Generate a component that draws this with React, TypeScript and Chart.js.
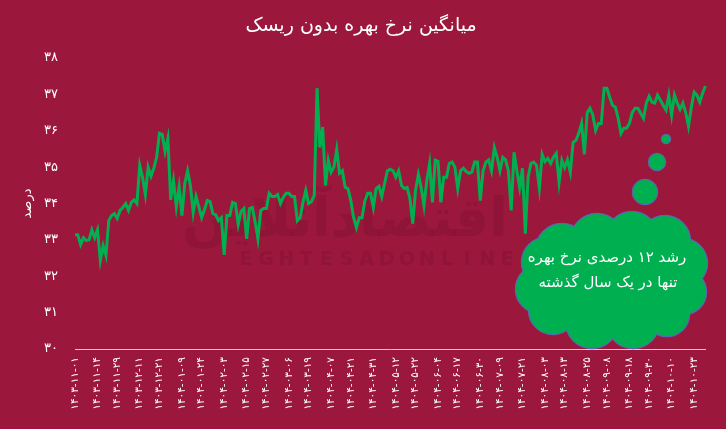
import React, { useEffect, useRef } from 'react';
import { Chart, registerables } from 'chart.js';

Chart.register(...registerables);

const TITLE = 'میانگین نرخ بهره بدون ریسک';
const Y_TITLE = 'درصد';
const CALLOUT_LINES = ['رشد ۱۲ درصدی نرخ بهره', 'تنها در یک سال گذشته'];
const WATERMARK_FA = 'اقتصادآنلاین';
const WATERMARK_EN = 'EGHTESADONLINE';

const Y_MIN = 30;
const Y_MAX = 38;

const TICK_LABELS = [
  '۱۴۰۳-۱۱-۰۱', '۱۴۰۳-۱۱-۱۴', '۱۴۰۳-۱۱-۲۹', '۱۴۰۳-۱۲-۱۱', '۱۴۰۳-۱۲-۲۱',
  '۱۴۰۴-۰۱-۰۹', '۱۴۰۴-۰۱-۲۴', '۱۴۰۴-۰۲-۰۳', '۱۴۰۴-۰۲-۱۵', '۱۴۰۴-۰۲-۲۷',
  '۱۴۰۴-۰۳-۰۶', '۱۴۰۴-۰۳-۱۹', '۱۴۰۴-۰۴-۰۷', '۱۴۰۴-۰۴-۲۱', '۱۴۰۴-۰۴-۳۱',
  '۱۴۰۴-۰۵-۱۲', '۱۴۰۴-۰۵-۲۲', '۱۴۰۴-۰۶-۰۴', '۱۴۰۴-۰۶-۱۷', '۱۴۰۴-۰۶-۳۰',
  '۱۴۰۴-۰۷-۰۹', '۱۴۰۴-۰۷-۲۱', '۱۴۰۴-۰۸-۰۳', '۱۴۰۴-۰۸-۱۳', '۱۴۰۴-۰۸-۲۵',
  '۱۴۰۴-۰۹-۰۸', '۱۴۰۴-۰۹-۱۸', '۱۴۰۴-۰۹-۳۰', '۱۴۰۴-۱۰-۱۰', '۱۴۰۴-۱۰-۲۳',
];
// one date label is shown about every 7.57 observations
const TICK_STEP = 7.57;

const RATES = [
  33.14, 33.14, 32.87, 33.06, 32.98, 33.0, 33.28, 33.06, 33.28, 32.43,
  32.84, 32.57, 33.53, 33.67, 33.72, 33.59, 33.81, 33.89, 34.0, 33.81,
  34.03, 34.1, 34.0, 35.05, 34.72, 34.25, 35.0, 34.75, 34.97, 35.27,
  35.93, 35.9, 35.43, 35.79, 34.1, 34.63, 33.91, 34.45, 33.67, 34.55,
  34.9, 34.5, 33.75, 34.19, 33.91, 33.61, 33.83, 34.08, 34.05, 33.72,
  33.69, 33.53, 33.61, 32.59, 33.67, 33.67, 34.03, 34.0, 33.42, 33.78,
  33.86, 33.03, 33.86, 33.89, 33.5, 33.03, 33.81, 33.86, 33.86, 34.28,
  34.19, 34.19, 34.25, 34.0, 34.17, 34.28, 34.28, 34.19, 34.19, 33.53,
  33.61, 34.03, 34.36, 34.0, 34.05, 34.22,
  37.17, 35.54, 36.1, 34.5, 35.19, 34.86, 35.0, 35.49, 34.83, 34.9,
  34.44, 34.41, 34.08, 33.61, 33.34, 33.61, 33.61, 34.08, 34.28, 34.28,
  33.89, 34.41, 34.47, 34.19, 34.55, 34.9, 34.94, 34.9, 34.72, 34.9,
  34.5, 34.41, 34.44, 34.14, 33.45, 34.36, 34.8, 34.44, 33.94, 34.63,
  35.1, 34.03, 35.19, 35.16, 34.03, 34.72, 34.72, 35.1, 35.14, 35.0,
  34.41, 34.9, 34.97, 34.88, 34.83, 34.86, 35.14, 35.14, 34.08, 34.9,
  35.14, 35.2, 34.9, 35.54, 35.27, 34.9, 35.27, 35.2, 34.9, 33.81,
  35.41, 34.9, 34.44, 34.97, 33.17, 34.72, 35.1, 35.14,
  35.05, 34.42, 35.35, 35.15, 35.24, 35.1, 35.27, 35.38, 34.58, 35.19,
  34.99, 35.2, 34.86, 35.68, 35.74, 35.93, 36.2, 35.35, 36.5, 36.62,
  36.43, 36.01, 36.2, 36.2, 37.17, 37.17, 36.92, 36.7, 36.65, 36.34,
  35.93, 36.07, 36.07, 36.2, 36.5, 36.62, 36.62, 36.48, 36.34, 36.76,
  36.95, 36.79, 36.76, 36.98, 36.84, 36.7, 36.57, 36.98, 36.43, 36.98,
  36.76, 36.59, 36.76, 36.5, 36.12, 36.65, 37.06, 36.98, 36.79, 37.03, 37.23,
];

const BG = '#9B173B';
const GREEN = '#00B050';
const FONT = "'DejaVu Sans', sans-serif";
const FA_DIGITS = '۰۱۲۳۴۵۶۷۸۹';
const toFa = (v: number | string) => String(v).replace(/\d/g, (d) => FA_DIGITS[+d]);

const CATEGORIES: string[] = RATES.map(() => '');
TICK_LABELS.forEach((t, k) => {
  const i = Math.round(k * TICK_STEP);
  if (i < CATEGORIES.length) CATEGORIES[i] = t;
});

const decorPlugin = {
  id: 'bgAndDecor',
  beforeDraw(chart: any) {
    const { ctx, width, height } = chart;
    ctx.save();
    ctx.fillStyle = BG;
    ctx.fillRect(0, 0, width, height);
    ctx.fillStyle = '#ffffff';
    ctx.font = `19px ${FONT}`;
    ctx.textAlign = 'center';
    ctx.textBaseline = 'middle';
    ctx.direction = 'rtl';
    ctx.fillText(TITLE, 361, 26);
    ctx.restore();
  },
  beforeDatasetsDraw(chart: any) {
    const { ctx } = chart;
    ctx.save();
    ctx.fillStyle = 'rgba(40,0,15,0.10)';
    ctx.textAlign = 'center';
    ctx.textBaseline = 'middle';
    ctx.font = `bold 54px ${FONT}`;
    ctx.direction = 'rtl';
    ctx.fillText(WATERMARK_FA, 345, 222);
    ctx.direction = 'ltr';
    ctx.font = `bold 19px ${FONT}`;
    WATERMARK_EN.split('').forEach((c, i) => ctx.fillText(c, 246 + 20.1 * i, 260));
    ctx.restore();
  },
  afterDraw(chart: any) {
    const { ctx } = chart;
    const bumps: [number, number, number][] = [
      [562, 250, 26], [597, 240, 26], [632, 238, 26], [665, 241, 25],
      [683, 263, 24], [684, 292, 22],
      [667, 314, 22], [633, 322, 26], [592, 322, 26], [553, 310, 24],
      [540, 289, 24], [546, 262, 24],
      [580, 283, 40], [612, 283, 45], [645, 283, 40],
    ];
    const bubbles: [number, number, number][] = [
      [645, 192, 12], [657, 162, 8], [666, 139, 4],
    ];
    const all = bumps.concat(bubbles);
    ctx.save();
    ctx.strokeStyle = '#5868AE';
    ctx.lineWidth = 2.5;
    all.forEach(([x, y, r]) => {
      ctx.beginPath();
      ctx.arc(x, y, r, 0, Math.PI * 2);
      ctx.stroke();
    });
    ctx.fillStyle = GREEN;
    all.forEach(([x, y, r]) => {
      ctx.beginPath();
      ctx.arc(x, y, r, 0, Math.PI * 2);
      ctx.fill();
    });
    ctx.fillStyle = '#ffffff';
    ctx.font = `15px ${FONT}`;
    ctx.textAlign = 'center';
    ctx.textBaseline = 'middle';
    ctx.direction = 'rtl';
    ctx.fillText(CALLOUT_LINES[0], 607, 258);
    ctx.fillText(CALLOUT_LINES[1], 608, 283);
    ctx.restore();
  },
};

export default function App() {
  const canvasRef = useRef<HTMLCanvasElement | null>(null);

  useEffect(() => {
    if (!canvasRef.current) return;
    const chart = new Chart(canvasRef.current, {
      type: 'line',
      data: {
        labels: CATEGORIES,
        datasets: [
          {
            data: RATES,
            borderColor: GREEN,
            borderWidth: 3,
            pointRadius: 0,
            tension: 0,
            fill: false,
          },
        ],
      },
      options: {
        responsive: false,
        animation: false,
        events: [],
        layout: { padding: { top: 58, right: 18, left: 0, bottom: 0 } },
        plugins: {
          legend: { display: false },
          tooltip: { enabled: false },
          title: { display: false },
        },
        scales: {
          x: {
            type: 'category',
            offset: false,
            grid: { display: false, drawTicks: false },
            border: { display: true, color: '#d0d0d0', width: 1 },
            ticks: {
              autoSkip: false,
              minRotation: 90,
              maxRotation: 90,
              padding: 8,
              color: '#ffffff',
              font: { family: FONT, size: 10.5 },
              callback: (_v: any, i: number) => CATEGORIES[i],
            },
            afterFit: (s: any) => {
              s.height = 80;
            },
          },
          y: {
            min: Y_MIN,
            max: Y_MAX,
            grid: { display: false, drawTicks: false },
            border: { display: false },
            ticks: {
              stepSize: 1,
              padding: 17,
              color: '#ffffff',
              font: { family: FONT, size: 13 },
              callback: (v: any) => toFa(v),
            },
            title: {
              display: true,
              text: Y_TITLE,
              color: '#ffffff',
              font: { family: FONT, size: 13 },
              padding: { top: 20, bottom: 0 },
            },
            afterFit: (s: any) => {
              s.width = 75;
            },
          },
        },
      },
      plugins: [decorPlugin],
    });
    return () => chart.destroy();
  }, []);

  return (
    <div style={{ position: 'absolute', left: 0, top: 0, width: 726, height: 429 }}>
      <canvas ref={canvasRef} width={726} height={429} />
    </div>
  );
}
